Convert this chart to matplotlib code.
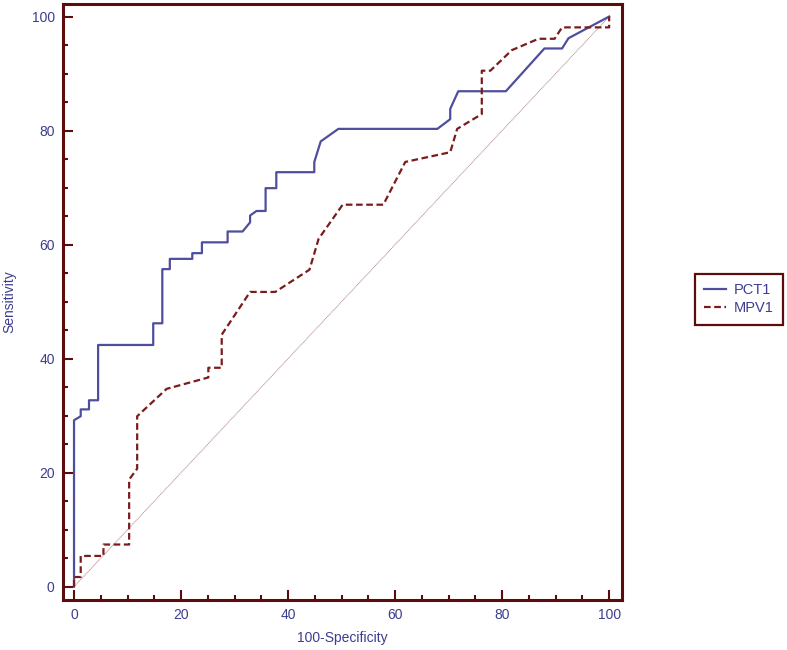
import matplotlib.pyplot as plt
from matplotlib.ticker import MultipleLocator

# ROC curves (100-specificity, sensitivity)
pct1_x = [0, 0, 1.25, 1.25, 2.8, 2.8, 4.5, 4.5, 14.8, 14.8,
          16.5, 16.5, 17.9, 17.9, 22.1, 22.1, 23.9, 23.9, 28.7, 28.7,
          31.5, 32.9, 32.9, 34.1, 35.8, 35.8, 37.8, 37.8, 44.9, 44.9,
          46.1, 49.4, 67.9, 70.3, 70.3, 71.8, 80.7, 87.9, 91.2, 92.4,
          100]
pct1_y = [0, 29.2, 29.9, 31.1, 31.1, 32.7, 32.7, 42.4, 42.4, 46.2,
          46.2, 55.7, 55.7, 57.5, 57.5, 58.5, 58.5, 60.4, 60.4, 62.3,
          62.3, 63.9, 65.1, 65.9, 65.9, 69.9, 69.9, 72.7, 72.7, 74.5,
          78.1, 80.3, 80.3, 82.0, 83.8, 86.9, 86.9, 94.4, 94.4, 96.2,
          100]

mpv1_x = [0, 0, 1.25, 1.25, 5.5, 5.5, 10.3, 10.3, 11.8, 11.8,
          17.3, 25.1, 25.1, 27.6, 27.6, 32.9, 37.6, 44.0, 45.7, 50.2,
          57.8, 61.9, 70.3, 71.6, 76.2, 76.2, 77.8, 81.8, 86.8, 89.8,
          91.2, 100, 100]
mpv1_y = [0, 1.7, 1.7, 5.4, 5.4, 7.4, 7.4, 18.8, 20.7, 29.9,
          34.7, 36.7, 38.4, 38.4, 44.2, 51.7, 51.7, 55.6, 61.0, 67.0,
          67.0, 74.5, 76.2, 80.3, 82.9, 90.5, 90.5, 94.1, 96.1, 96.1,
          98.1, 98.1, 100]

series_names = ['PCT1', 'MPV1']
ref_line = [0, 100]

frame = '#5c0c0c'
text_col = '#3d3d8f'
blue = '#4e4e9c'
maroon = '#7a1c1c'

plt.rcParams['font.family'] = ['Liberation Sans', 'DejaVu Sans']

fig = plt.figure(figsize=(7.87, 6.5), dpi=100)
ax = fig.add_axes([63 / 787, 50 / 650, 559 / 787, 596 / 650])

ax.plot(ref_line, ref_line, color='#b89090', lw=0.7, ls=(0, (1, 0.6)))
ax.plot(pct1_x, pct1_y, color=blue, lw=1.6, label=series_names[0])
ax.plot(mpv1_x, mpv1_y, color=maroon, lw=1.6, ls=(0, (3, 1.6)),
        label=series_names[1])

ax.set_xlim(-2.06, 102.4)
ax.set_ylim(-2.33, 102.2)

ax.xaxis.set_major_locator(MultipleLocator(20))
ax.xaxis.set_minor_locator(MultipleLocator(5))
ax.yaxis.set_major_locator(MultipleLocator(20))
ax.yaxis.set_minor_locator(MultipleLocator(5))
ax.tick_params(which='major', direction='in', length=7, width=1.5,
               color=frame, labelcolor=text_col, labelsize=10, pad=6)
ax.tick_params(which='minor', direction='in', length=3.5, width=1.5,
               color=frame)

for sp in ax.spines.values():
    sp.set_color(frame)
    sp.set_linewidth(2.2)

ax.set_xlabel('100-Specificity', color=text_col, fontsize=10, labelpad=6)
ax.set_ylabel('Sensitivity', color=text_col, fontsize=10, labelpad=11)

leg = ax.legend(loc='upper left', bbox_to_anchor=(695 / 787, 1 - 274 / 650),
                bbox_transform=fig.transFigure, borderaxespad=0,
                fancybox=False, framealpha=1, fontsize=10.5,
                handlelength=1.5, handletextpad=0.5, labelspacing=0.25,
                borderpad=0.65)
leg.get_frame().set_edgecolor(frame)
leg.get_frame().set_linewidth(1.6)
for t in leg.get_texts():
    t.set_color(text_col)

fig.savefig('out.png', dpi=100)
